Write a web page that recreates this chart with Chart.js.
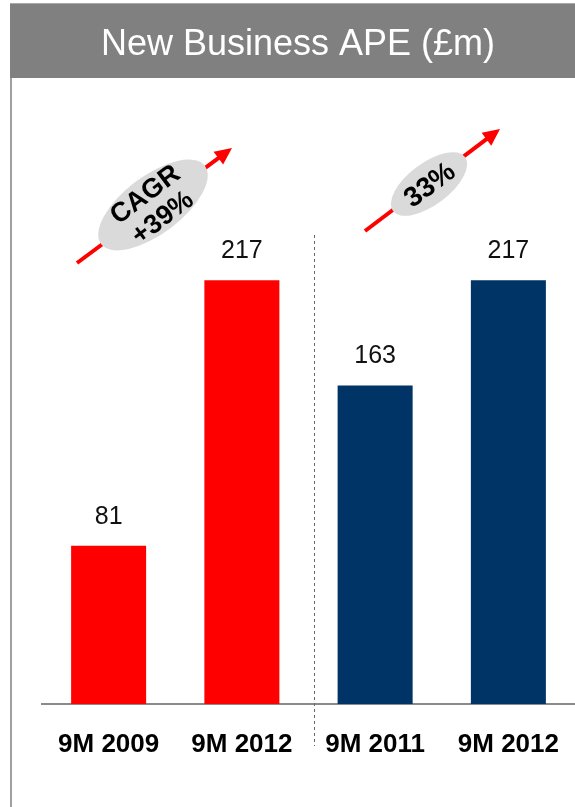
<!DOCTYPE html>
<html>
<head>
<meta charset="utf-8">
<title>New Business APE</title>
<script src="https://cdn.jsdelivr.net/npm/chart.js@4.4.1/dist/chart.umd.min.js"></script>
<style>
  body { margin: 0; background: #fff; overflow: hidden; }
  #wrap { position: relative; width: 575px; height: 807px; }
</style>
</head>
<body>
<div id="wrap"><canvas id="apeChart" width="575" height="807"></canvas></div>
<script>
const periods = ['9M 2009', '9M 2012', '9M 2011', '9M 2012'];
const apeValues = [81, 217, 163, 217];
const barColors = ['#ff0000', '#ff0000', '#003366', '#003366'];
const growthNotes = [['CAGR', '+39%'], ['33%']];

const title = 'New Business APE (£m)';

// header bar, left rule, value labels, divider and the growth arrows
const decorations = {
    id: 'decorations',
    beforeDraw(chart) {
        const ctx = chart.ctx;
        ctx.save();
        ctx.fillStyle = '#fff';
        ctx.fillRect(0, 0, chart.width, chart.height);
        // grey header
        ctx.fillStyle = '#808080';
        ctx.fillRect(10, 3, chart.width - 10, 75);
        ctx.fillStyle = '#a8a8a8';
        ctx.fillRect(10, 3, chart.width - 10, 1);
        ctx.fillStyle = '#fff';
        ctx.font = '36px "Liberation Sans", Arial, sans-serif';
        ctx.textAlign = 'center';
        ctx.textBaseline = 'middle';
        ctx.fillText(title, 298, 45);
        // left frame line
        ctx.fillStyle = '#a0a0a0';
        ctx.fillRect(10, 78, 2, chart.height - 78);
        ctx.restore();
    },
    afterDatasetsDraw(chart) {
        const ctx = chart.ctx;
        const meta = chart.getDatasetMeta(0);
        ctx.save();

        // numbers above the bars
        ctx.fillStyle = '#111';
        ctx.font = '25px "Liberation Sans", Arial, sans-serif';
        ctx.textAlign = 'center';
        ctx.textBaseline = 'middle';
        meta.data.forEach((bar, i) => {
            ctx.fillText(apeValues[i].toString(), bar.x, bar.y - 29);
        });

        // dotted divider between the two pairs
        const xs = chart.scales.x;
        const divX = Math.round((xs.getPixelForTick(1) + xs.getPixelForTick(2)) / 2 + 5) + 0.5;
        ctx.strokeStyle = '#6a6a6a';
        ctx.lineWidth = 1;
        ctx.setLineDash([3, 3]);
        ctx.beginPath();
        ctx.moveTo(divX, 235);
        ctx.lineTo(divX, 746);
        ctx.stroke();
        ctx.setLineDash([]);

        drawArrow(ctx, 77, 263, 232, 148);
        drawBadge(ctx, 153, 205, 65, 29, growthNotes[0], 27);
        drawArrow(ctx, 365, 231, 500, 129);
        drawBadge(ctx, 429, 184, 45, 21, growthNotes[1], 28);
        ctx.restore();
    }
};

function drawArrow(ctx, x1, y1, x2, y2) {
    const ang = Math.atan2(y2 - y1, x2 - x1);
    const head = 17;
    ctx.strokeStyle = '#ff0000';
    ctx.fillStyle = '#ff0000';
    ctx.lineWidth = 4;
    ctx.beginPath();
    ctx.moveTo(x1, y1);
    ctx.lineTo(x2 - Math.cos(ang) * head * 0.8, y2 - Math.sin(ang) * head * 0.8);
    ctx.stroke();
    ctx.save();
    ctx.translate(x2, y2);
    ctx.rotate(ang);
    ctx.beginPath();
    ctx.moveTo(0, 0);
    ctx.lineTo(-head, -8);
    ctx.lineTo(-head, 8);
    ctx.closePath();
    ctx.fill();
    ctx.restore();
}

function drawBadge(ctx, cx, cy, rx, ry, lines, size) {
    const rot = -37 * Math.PI / 180;
    ctx.save();
    ctx.translate(cx, cy);
    ctx.rotate(rot);
    ctx.fillStyle = '#dadada';
    ctx.beginPath();
    ctx.ellipse(0, 0, rx, ry, 0, 0, Math.PI * 2);
    ctx.fill();
    ctx.fillStyle = '#000';
    ctx.font = 'bold ' + size + 'px "Liberation Sans", Arial, sans-serif';
    ctx.textAlign = 'center';
    ctx.textBaseline = 'middle';
    const gap = 29;
    lines.forEach((t, i) => {
        const off = (i - (lines.length - 1) / 2) * gap;
        ctx.fillText(t, 0, off + 2);
    });
    ctx.restore();
}

new Chart(document.getElementById('apeChart'), {
    type: 'bar',
    data: {
        labels: periods,
        datasets: [{
            data: apeValues,
            backgroundColor: barColors,
            borderWidth: 0,
            barPercentage: 0.563,
            categoryPercentage: 1
        }]
    },
    options: {
        responsive: false,
        animation: false,
        devicePixelRatio: 1,
        layout: { padding: { left: 42, right: 0, top: 118, bottom: 0 } },
        plugins: {
            legend: { display: false },
            tooltip: { enabled: false }
        },
        scales: {
            x: {
                grid: { display: false, drawTicks: false },
                border: { display: true, color: '#8a8a8a', width: 2 },
                ticks: {
                    color: '#000',
                    padding: 25,
                    maxRotation: 0,
                    minRotation: 0,
                    autoSkip: false,
                    font: { family: '"Liberation Sans", Arial, sans-serif', size: 26, weight: 'bold' }
                },
                afterFit(scale) {
                    scale.height = 103;
                    scale.paddingLeft = 0;
                    scale.paddingRight = 0;
                }
            },
            y: {
                display: false,
                min: 0,
                max: 300
            }
        }
    },
    plugins: [decorations]
});
</script>
</body>
</html>
